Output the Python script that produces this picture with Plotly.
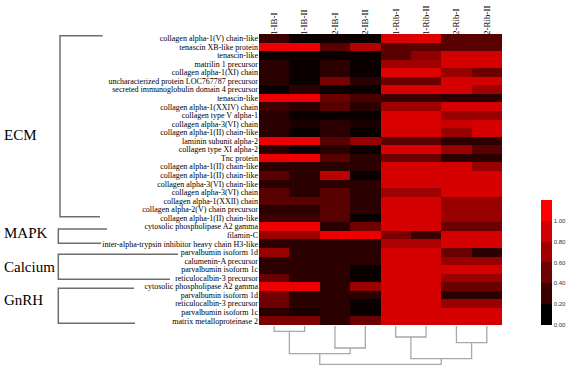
import plotly.graph_objects as go

# ---------------- data ----------------
row_labels = [
    "collagen alpha-1(V) chain-like", "tenascin XB-like protein", "tenascin-like",
    "matrilin 1 precursor", "collagen alpha-1(XI) chain",
    "uncharacterized protein LOC767787 precursor",
    "secreted immunoglobulin domain 4 precursor", "tenascin-like",
    "collagen alpha-1(XXIV) chain", "collagen type V alpha-1",
    "collagen alpha-3(VI) chain", "collagen alpha-1(II) chain-like",
    "laminin subunit alpha-2", "collagen type XI alpha-2", "Tnc protein",
    "collagen alpha-1(II) chain-like", "collagen alpha-1(II) chain-like",
    "collagen alpha-3(VI) chain-like", "collagen alpha-3(VI) chain",
    "collagen alpha-1(XXII) chain", "collagen alpha-2(V) chain precursor",
    "collagen alpha-1(II) chain-like", "cytosolic phospholipase A2 gamma",
    "filamin-C", "inter-alpha-trypsin inhibitor heavy chain H3-like",
    "parvalbumin isoform 1d", "calumenin-A precursor", "parvalbumin isoform 1c",
    "reticulocalbin-3 precursor", "cytosolic phospholipase A2 gamma",
    "parvalbumin isoform 1d", "reticulocalbin-3 precursor",
    "parvalbumin isoform 1c", "matrix metalloproteinase 2",
]
col_labels = ["1-IB-I", "1-IB-II", "2-IB-I", "2-IB-II",
              "1-Rib-I", "1-Rib-II", "2-Rib-I", "2-Rib-II"]

# one row per protein, columns in col_labels order
values = [
    [0.28, 0.05, 0.08, 0.05, 1.02, 1.05, 0.42, 0.42],
    [1.12, 1.12, 0.42, 0.85, 0.42, 0.42, 0.42, 0.42],
    [0.06, 0.05, 0.05, 0.05, 0.42, 0.68, 1.0, 1.0],
    [0.2, 0.05, 0.2, 0.05, 0.75, 0.75, 1.0, 1.0],
    [0.2, 0.05, 0.2, 0.05, 1.05, 1.05, 0.72, 0.5],
    [0.2, 0.05, 0.58, 0.2, 0.5, 0.5, 1.0, 1.0],
    [0.05, 0.2, 0.05, 0.05, 1.02, 1.02, 1.0, 0.75],
    [1.12, 1.12, 0.5, 0.35, 0.28, 0.28, 0.2, 0.2],
    [0.28, 0.2, 0.42, 0.2, 0.75, 0.75, 1.0, 1.0],
    [0.2, 0.05, 0.05, 0.05, 1.02, 1.02, 0.72, 0.72],
    [0.2, 0.12, 0.2, 0.12, 1.02, 1.02, 0.95, 1.0],
    [0.2, 0.05, 0.2, 0.05, 1.0, 1.0, 0.72, 1.0],
    [1.12, 1.12, 0.42, 0.72, 0.42, 0.42, 0.2, 0.2],
    [0.2, 0.05, 0.2, 0.05, 1.02, 1.02, 0.72, 0.42],
    [1.12, 1.12, 0.42, 0.2, 0.5, 0.5, 0.2, 0.2],
    [0.2, 0.2, 0.2, 0.2, 1.0, 1.0, 1.0, 0.72],
    [0.42, 0.2, 0.88, 0.05, 1.0, 1.0, 1.0, 1.0],
    [0.2, 0.2, 0.2, 0.2, 1.0, 1.0, 1.0, 1.0],
    [0.42, 0.2, 0.42, 0.2, 0.75, 0.75, 1.0, 1.0],
    [0.42, 0.42, 0.42, 0.2, 1.0, 1.0, 0.72, 0.72],
    [0.2, 0.2, 0.42, 0.2, 1.0, 1.0, 0.72, 0.72],
    [0.28, 0.28, 0.42, 0.05, 1.0, 1.0, 0.72, 0.72],
    [1.12, 1.12, 0.2, 0.55, 1.0, 1.0, 0.5, 0.5],
    [0.72, 0.72, 1.12, 1.12, 0.58, 0.28, 1.0, 1.0],
    [0.2, 0.2, 0.2, 0.2, 0.82, 0.82, 1.0, 1.0],
    [0.72, 0.2, 0.2, 0.2, 1.0, 1.0, 0.5, 0.2],
    [0.2, 0.2, 0.2, 0.2, 1.0, 1.0, 0.72, 0.72],
    [0.2, 0.2, 0.2, 0.05, 1.0, 1.0, 1.0, 1.0],
    [0.5, 0.2, 0.2, 0.05, 1.0, 1.0, 0.72, 0.72],
    [1.12, 1.12, 0.2, 0.72, 1.0, 1.0, 0.5, 0.5],
    [0.55, 0.2, 0.2, 0.2, 1.0, 1.0, 0.2, 0.2],
    [0.5, 0.2, 0.2, 0.05, 1.0, 1.0, 0.72, 0.72],
    [0.2, 0.12, 0.2, 0.05, 1.0, 1.0, 1.0, 1.0],
    [0.58, 0.58, 0.2, 0.5, 1.0, 1.0, 1.0, 1.0],
]

# dendrogram merges: (left, right, height); ids >= 8 are earlier merges
dendro_merges = [
    (0, 1, 5.3),
    (2, 3, 22.0),
    (8, 9, 27.7),
    (4, 5, 11.0),
    (6, 7, 16.7),
    (11, 12, 32.7),
    (10, 13, 38.3),
]

groups = ["ECM", "MAPK", "Calcium", "GnRH"]

colorbar_ticks = [0.0, 0.2, 0.4, 0.6, 0.8, 1.0]

# ---------------- layout helpers ----------------
W, H = 567, 366
ML, MR, MT, MB = 259, 65, 34, 0
PW, PH = W - ML - MR, H - MT - MB


def px(x):
    return (x - ML) / PW


def py(y):
    return (H - MB - y) / PH


serif = "Liberation Serif, Times New Roman, serif"

fig = go.Figure()

heat_scale = [[0, "#000000"], [1, "#ff0000"]]
fig.add_trace(go.Heatmap(
    z=values, x=list(range(len(col_labels))), y=list(range(len(row_labels))),
    zmin=0, zmax=1.2, colorscale=heat_scale, showscale=False,
    xaxis="x", yaxis="y", hoverinfo="skip",
))

# discrete colorbar via a dummy trace
band_cols = ["#000000", "#3a0000", "#6e0000", "#a20000", "#d20000", "#ff0000"]
disc = []
for i, c in enumerate(band_cols):
    disc.append([i / len(band_cols), c])
    disc.append([(i + 1) / len(band_cols), c])
fig.add_trace(go.Scatter(
    x=[None, None], y=[None, None], mode="markers", xaxis="x2", yaxis="y2",
    marker=dict(color=[0, 1.2], cmin=0, cmax=1.2, colorscale=disc, showscale=True,
                colorbar=dict(
                    x=px(541), xanchor="left", y=py(325), yanchor="bottom",
                    len=125 / PH, lenmode="fraction", thickness=11,
                    outlinewidth=0, ticks="", tickvals=colorbar_ticks,
                    ticktext=[f"{v:.2f}" for v in colorbar_ticks],
                    tickfont=dict(family="Liberation Sans, Arial", size=6, color="#333"),
                    ypad=0, xpad=0,
                )),
    showlegend=False, hoverinfo="skip",
))

# dendrogram lines
pos = {i: float(i) for i in range(len(col_labels))}
hgt = {i: 0.0 for i in range(len(col_labels))}
dx, dy = [], []
for k, (a, b, h) in enumerate(dendro_merges):
    nid = len(col_labels) + k
    dx += [pos[a], pos[a], pos[b], pos[b], None]
    dy += [hgt[a], h, h, hgt[b], None]
    pos[nid] = (pos[a] + pos[b]) / 2
    hgt[nid] = h
fig.add_trace(go.Scatter(
    x=dx, y=dy, mode="lines", xaxis="x2", yaxis="y2",
    line=dict(color="#a8a8a8", width=1.3), showlegend=False, hoverinfo="skip",
))

fig.update_layout(
    width=W, height=H,
    margin=dict(l=ML, r=MR, t=MT, b=MB, pad=0, autoexpand=False),
    paper_bgcolor="white", plot_bgcolor="white",
    xaxis=dict(domain=[0, 1], range=[-0.5, 7.5], side="top", anchor="y",
               tickmode="array", tickvals=list(range(len(col_labels))),
               ticktext=col_labels, tickangle=-90, ticks="", automargin=False,
               ticklabelstandoff=-2,
               tickfont=dict(family=serif, size=9, color="black"),
               showgrid=False, zeroline=False, showline=False),
    yaxis=dict(domain=[py(325), 1], range=[len(row_labels) - 0.5, -0.5],
               tickmode="array", tickvals=list(range(len(row_labels))),
               ticktext=row_labels, ticks="", automargin=False,
               tickfont=dict(family=serif, size=8, color="black"),
               showgrid=False, zeroline=False, showline=False),
    xaxis2=dict(domain=[0, 1], range=[-0.5, 7.5], anchor="y2", visible=False),
    yaxis2=dict(domain=[0, py(326)], range=[40, 0], anchor="x2", visible=False),
)

# group brackets at the left
bracket_paths = [
    [(102.7, 35.7), (60, 35.7), (60, 216.7), (100, 216.7)],
    [(107, 229), (58.3, 229), (58.3, 243.3), (101, 243.3)],
    [(178, 254.3), (58.3, 254.3), (58.3, 279.3), (170, 279.3)],
    [(134, 288.3), (58.3, 288.3), (58.3, 323.3), (135, 323.3)],
]
for pts in bracket_paths:
    path = "M " + " L ".join(f"{px(x):.4f},{py(y):.4f}" for x, y in pts)
    fig.add_shape(type="path", path=path, xref="paper", yref="paper",
                  line=dict(color="#6e6e6e", width=1.5))

group_y = [135, 233, 267, 300]
for g, yy in zip(groups, group_y):
    fig.add_annotation(text=g, x=px(2), y=py(yy), xref="paper", yref="paper",
                       xanchor="left", yanchor="middle", showarrow=False,
                       font=dict(family=serif, size=15, color="black"))

fig.write_html(
    "out.html",
    config={"displayModeBar": False},
    post_script="document.body.style.margin='0';document.body.style.padding='0';",
)
